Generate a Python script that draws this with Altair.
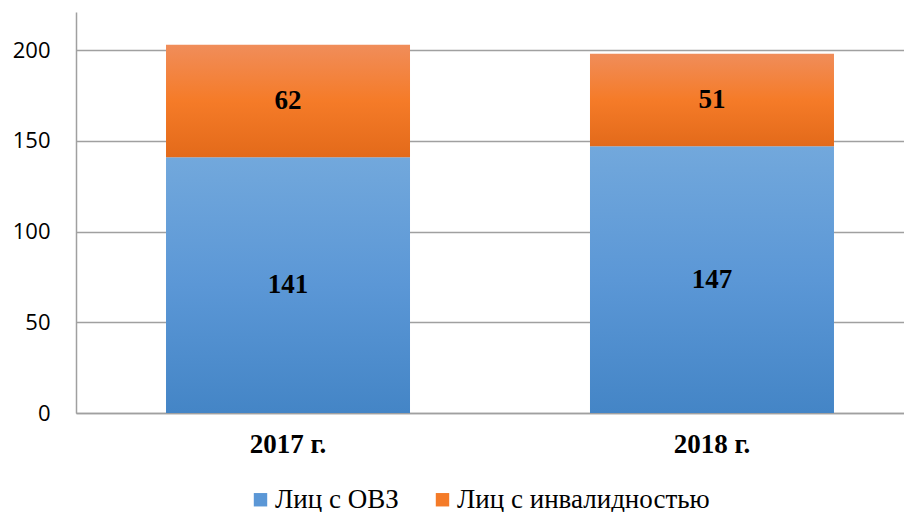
import altair as alt
import pandas as pd

years = ["2017 г.", "2018 г."]
ovz = [141, 147]
inv = [62, 51]
series = ["Лиц с ОВЗ", "Лиц с инвалидностью"]
y_ticks = [0, 50, 100, 150, 200]

rows = []
for i, yr in enumerate(years):
    rows.append({"year": yr, "series": series[0], "val": ovz[i], "lo": 0, "hi": ovz[i]})
    rows.append({"year": yr, "series": series[1], "val": inv[i], "lo": ovz[i], "hi": ovz[i] + inv[i]})
df = pd.DataFrame(rows)
df["mid"] = (df["lo"] + df["hi"]) / 2

blue_grad = alt.Gradient(gradient="linear", x1=0, x2=0, y1=0, y2=1,
                         stops=[alt.GradientStop(color="#72a8dc", offset=0),
                                alt.GradientStop(color="#5b97d6", offset=0.5),
                                alt.GradientStop(color="#4485c6", offset=1)])
orange_grad = alt.Gradient(gradient="linear", x1=0, x2=0, y1=0, y2=1,
                           stops=[alt.GradientStop(color="#f08d5a", offset=0),
                                  alt.GradientStop(color="#f57b28", offset=0.5),
                                  alt.GradientStop(color="#e36a1a", offset=1)])

xscale = alt.Scale(domain=years, range=[0, 848], paddingInner=0.4245, paddingOuter=0.2123)
yscale = alt.Scale(domain=[0, 221], nice=False)

x_enc = alt.X("year:N", scale=xscale, sort=years,
              axis=alt.Axis(title=None, labelAngle=0, labelFont="Liberation Serif",
                            labelFontSize=27, labelFontWeight="bold", labelColor="#000000",
                            labelPadding=18, ticks=False, domainColor="#a0a0a0", domainWidth=1.5))
y_axis = alt.Axis(title=None, values=y_ticks, labelFont="Open Sans", labelFontSize=22,
                  labelColor="#000000", labelPadding=26, ticks=False, grid=True,
                  gridColor="#a0a0a0", gridWidth=1.3, domainColor="#a0a0a0", domainWidth=1.5)

legend_layer = alt.Chart(df).mark_bar(opacity=0).encode(
    x=x_enc,
    y=alt.Y("lo:Q", scale=yscale, axis=y_axis),
    y2="hi:Q",
    color=alt.Color("series:N", scale=alt.Scale(domain=series, range=["#5b97d6", "#f47b28"]),
                    legend=alt.Legend(title=None, orient="none", direction="horizontal",
                                      legendX=171, legendY=474, symbolType="square",
                                      symbolSize=180, symbolOpacity=1, symbolStrokeWidth=0,
                                      labelFont="Liberation Serif", labelFontSize=27,
                                      labelFontWeight="normal",
                                      labelLimit=0, labelColor="#000000", columnPadding=30,
                                      labelOffset=1)),
)

blue = alt.Chart(df).transform_filter(alt.datum.series == series[0]).mark_bar(fill=blue_grad).encode(
    x=alt.X("year:N", scale=xscale, sort=years), y=alt.Y("lo:Q", scale=yscale), y2="hi:Q")
orange = alt.Chart(df).transform_filter(alt.datum.series == series[1]).mark_bar(fill=orange_grad).encode(
    x=alt.X("year:N", scale=xscale, sort=years), y=alt.Y("lo:Q", scale=yscale), y2="hi:Q")

labels = alt.Chart(df).mark_text(font="Liberation Serif", fontSize=27, fontWeight="bold",
                                 color="#000000", baseline="middle").encode(
    x=alt.X("year:N", scale=xscale, sort=years), y=alt.Y("mid:Q", scale=yscale), text="val:Q")

chart = alt.layer(legend_layer, blue, orange, labels).properties(
    width=828, height=401,
    autosize=alt.AutoSizeParams(type="none"),
    padding={"left": 68, "top": 4, "right": 0, "bottom": 100},
).configure_view(stroke=None)

chart.save("out.html", embed_options={"renderer": "svg", "actions": False})
